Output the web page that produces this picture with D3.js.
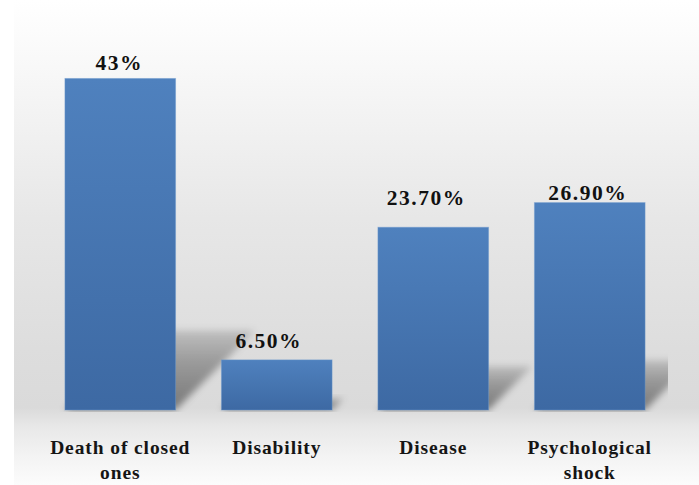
<!DOCTYPE html>
<html>
<head>
<meta charset="utf-8">
<script src="https://cdn.jsdelivr.net/npm/d3@7/dist/d3.min.js"></script>
<style>
  html, body { margin: 0; padding: 0; background: #ffffff; }
  svg { display: block; }
</style>
</head>
<body>
<svg id="chart" width="699" height="485"></svg>
<script>
// Causes, and the share of respondents citing each one (percent)
const categories = ["Death of closed ones", "Disability", "Disease", "Psychological shock"];
const values = [43, 6.5, 23.7, 26.9];
const valueLabels = ["43%", "6.50%", "23.70%", "26.90%"];

// Hand-placed label nudges (px above bar top, px sideways)
const labelLift = [8, 12, 22, 3];
const labelShift = [-1, -8, -7, -2];

const FONT = "'Liberation Serif', 'Times New Roman', 'DejaVu Serif', serif";
const W = 699, H = 485;
const svg = d3.select("#chart");
const defs = svg.append("defs");

// Backdrop: soft vertical grey wash
const bg = defs.append("linearGradient").attr("id", "bgGrad")
  .attr("x1", 0).attr("y1", 0).attr("x2", 0).attr("y2", 1);
[[0, "#ffffff"], [0.12, "#f9f9f9"], [0.45, "#e7e7e7"], [0.72, "#dddddd"],
 [0.84, "#dadada"], [0.88, "#e8e8e8"], [0.94, "#f3f3f3"], [1, "#fcfcfc"]]
  .forEach(([o, c]) => bg.append("stop").attr("offset", o).attr("stop-color", c));

svg.append("rect").attr("x", 14).attr("y", 0).attr("width", W - 14).attr("height", H)
  .attr("fill", "url(#bgGrad)");

// Bar fill gradient
const barGrad = defs.append("linearGradient").attr("id", "barGrad")
  .attr("x1", 0).attr("y1", 0).attr("x2", 0).attr("y2", 1);
barGrad.append("stop").attr("offset", 0).attr("stop-color", "#4f81be");
barGrad.append("stop").attr("offset", 1).attr("stop-color", "#3d69a3");

// Cast-shadow gradient, dark at the floor and fading upward
const shGrad = defs.append("linearGradient").attr("id", "shGrad")
  .attr("x1", 0).attr("y1", 1).attr("x2", 0).attr("y2", 0);
shGrad.append("stop").attr("offset", 0).attr("stop-color", "#000").attr("stop-opacity", 0.45);
shGrad.append("stop").attr("offset", 0.6).attr("stop-color", "#000").attr("stop-opacity", 0.3);
shGrad.append("stop").attr("offset", 1).attr("stop-color", "#000").attr("stop-opacity", 0.14);

defs.append("filter").attr("id", "soft")
  .attr("x", "-30%").attr("y", "-30%").attr("width", "160%").attr("height", "160%")
  .append("feGaussianBlur").attr("stdDeviation", 3.5);

defs.append("clipPath").attr("id", "plotClip")
  .append("rect").attr("x", 14).attr("y", 0).attr("width", 654).attr("height", 412);

// Scales
const x = d3.scaleBand().domain(categories).range([42, 668])
  .paddingInner(0.293).paddingOuter(0.1465);
const y = d3.scaleLinear().domain([0, 50]).range([410, 24.5]);

const data = categories.map((c, i) => ({ c, v: values[i], label: valueLabels[i], i }));

// Perspective shadows cast up and to the right of each bar
const k = 0.24;
svg.append("g").attr("clip-path", "url(#plotClip)")
  .selectAll("polygon").data(data).join("polygon")
  .attr("points", d => {
    const x0 = x(d.c), x1 = x0 + x.bandwidth(), b = y(0);
    const h = (y(0) - y(d.v)) * k, s = h;
    return [[x0, b], [x1, b], [x1 + s, b - h], [x0 + s, b - h]].map(p => p.join(",")).join(" ");
  })
  .attr("fill", "url(#shGrad)")
  .attr("filter", "url(#soft)");

// Bars
svg.append("g").selectAll("rect").data(data).join("rect")
  .attr("x", d => x(d.c))
  .attr("y", d => y(d.v))
  .attr("width", x.bandwidth())
  .attr("height", d => y(0) - y(d.v))
  .attr("fill", "url(#barGrad)")
  .attr("stroke", "#6a96cc")
  .attr("stroke-opacity", 0.45)
  .attr("stroke-width", 1);

// Value labels
svg.append("g").selectAll("text").data(data).join("text")
  .attr("x", d => x(d.c) + x.bandwidth() / 2 + labelShift[d.i])
  .attr("y", d => y(d.v) - labelLift[d.i])
  .attr("text-anchor", "middle")
  .attr("font-family", FONT)
  .attr("font-size", 21.5)
  .attr("font-weight", "bold")
  .attr("letter-spacing", 1.5)
  .attr("fill", "#111")
  .text(d => d.label);

// Category labels, wrapped onto two lines when wide
const catG = svg.append("g");
data.forEach(d => {
  const cx = x(d.c) + x.bandwidth() / 2;
  const t = catG.append("text")
    .attr("x", cx)
    .attr("y", 454)
    .attr("text-anchor", "middle")
    .attr("font-family", FONT)
    .attr("font-size", 19.5)
    .attr("font-weight", "bold")
    .attr("letter-spacing", 0.9)
    .attr("fill", "#151515");
  const words = d.c.split(" ");
  let line = [];
  let ts = t.append("tspan").attr("x", cx).attr("dy", 0);
  words.forEach(w => {
    line.push(w);
    ts.text(line.join(" "));
    if (ts.node().getComputedTextLength() > 160 && line.length > 1) {
      line.pop();
      ts.text(line.join(" "));
      line = [w];
      ts = t.append("tspan").attr("x", cx).attr("dy", 25).text(w);
    }
  });
});
</script>
</body>
</html>
